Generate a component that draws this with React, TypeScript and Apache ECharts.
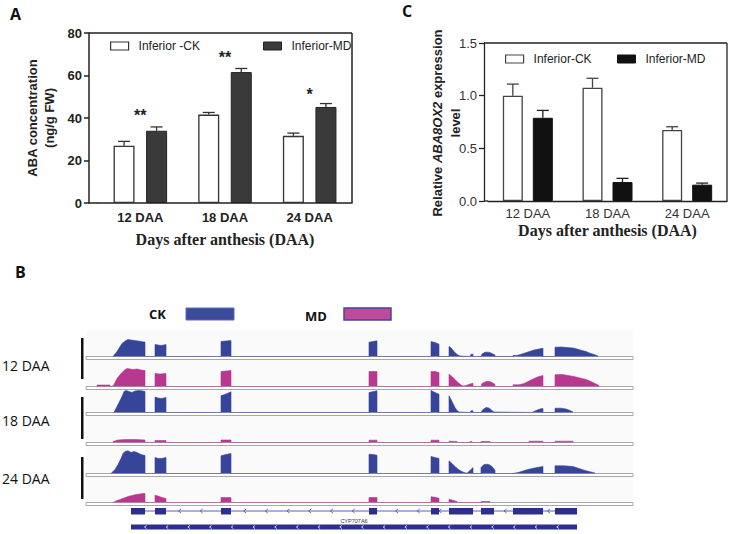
import React, { useEffect, useRef } from 'react';
import * as echarts from 'echarts';

// ---------- Panel A / C data ----------
const CATEGORIES = ['12 DAA', '18 DAA', '24 DAA'];
const ABA_CK = [27, 41.6, 31.6];
const ABA_CK_ERR = [2.0, 1.0, 1.3];
const ABA_MD = [34, 61.6, 45.2];
const ABA_MD_ERR = [1.8, 1.7, 1.6];
const ABA_SIG = ['**', '**', '*'];
const ABA_SIG_Y = [41, 68.5, 51];

const EXP_CK = [1.0, 1.075, 0.675];
const EXP_CK_ERR = [0.11, 0.09, 0.03];
const EXP_MD = [0.79, 0.18, 0.155];
const EXP_MD_ERR = [0.07, 0.035, 0.015];

// ---------- Panel B data (coverage tracks, position along locus, normalized depth) ----------
const CK_12 = [
  [27, 0], [31, 5], [36, 13], [40, 16], [42, 17], [45, 16.5], [48, 16], [52, 15.5], [55, 15], [58, 14.5], [59, 14.5], [59, 0],
  [69, 0], [69, 12], [72, 11.5], [75, 11], [78, 11.5], [80, 12], [80, 0],
  [135, 0], [135, 15], [140, 15.5], [145, 16], [145, 0],
  [283, 0], [283, 14.3], [291, 15.7], [291, 0],
  [345, 0], [345, 15], [349, 14], [353, 12.3], [353, 0],
  [363, 0], [363, 10], [365, 8.7], [368, 5], [371, 2], [374, 0.5], [374, 0],
  [384, 0], [385, 2.3], [387, 2.3], [387, 0],
  [395, 0], [396, 2.5], [399, 4.3], [403, 4.3], [406, 3], [409, 1.5], [409, 0],
  [427, 0], [427, 1], [431, 1], [436, 2.5], [442, 4.5], [448, 6.5], [453, 7.5], [457, 8.3], [457, 0],
  [469, 0], [469, 9.3], [475, 9.5], [481, 9], [487, 8.5], [491, 7.5], [496, 6], [500, 5], [504, 3.3], [508, 2], [512, 0.5], [512, 0],
];
const MD_12 = [
  [11, 0], [11, 1.5], [24, 1.5], [24, 0],
  [26, 0], [28, 2], [31, 8], [35, 13], [38, 16], [41, 18], [44, 17.5], [47, 17], [51, 17.5], [55, 16.5], [59, 16], [59, 0],
  [69, 0], [69, 13], [74, 12.5], [80, 13], [80, 0],
  [135, 0], [135, 15], [140, 15.5], [145, 16], [145, 0],
  [283, 0], [283, 15], [291, 15], [291, 0],
  [345, 0], [345, 15], [349, 15], [353, 14], [353, 0],
  [363, 0], [363, 12.3], [366, 10], [369, 7], [372, 4], [375, 1.5], [377, 0.5], [380, 1], [384, 2.5], [387, 3.3], [387, 0],
  [395, 0], [396, 3], [400, 5], [404, 5], [407, 3.5], [409, 2], [409, 0],
  [427, 0], [427, 1.7], [433, 1.7], [438, 3], [443, 5.5], [448, 8], [453, 10], [457, 11], [457, 0],
  [469, 0], [469, 11.7], [476, 12], [482, 11], [488, 10], [494, 8.5], [500, 7], [505, 5], [509, 3], [513, 1], [513, 0],
];
const CK_18 = [
  [28, 0], [30, 4], [33, 10], [36, 16], [38, 21], [40, 22], [43, 21], [46, 20], [49, 21.5], [53, 22], [57, 21.5], [59, 21], [59, 0],
  [69, 0], [69, 15.5], [72, 14.5], [75, 14], [78, 14.5], [80, 15], [80, 0],
  [135, 0], [135, 16.7], [140, 18.5], [145, 20.7], [145, 0],
  [283, 0], [283, 20], [291, 21.7], [291, 0],
  [345, 0], [345, 22], [349, 20], [353, 18.3], [353, 0],
  [363, 0], [363, 16.7], [365, 13], [367, 9], [369, 5], [371, 2], [373, 0.5], [373, 0],
  [384, 0], [385, 1.7], [387, 1.7], [387, 0],
  [395, 0], [397, 3], [400, 5], [403, 4.5], [406, 2], [408, 0.5], [408, 0],
  [446, 0], [450, 2], [454, 3.5], [457, 4], [457, 0],
  [469, 0], [469, 4.3], [475, 4.3], [480, 3.5], [484, 2], [487, 0.5], [487, 0],
];
const MD_18 = [
  [27, 0], [27, 1], [32, 2.5], [40, 3], [50, 3], [59, 2.5], [59, 0],
  [69, 0], [69, 2], [80, 2], [80, 0],
  [135, 0], [135, 2.5], [145, 2.5], [145, 0],
  [283, 0], [283, 2.3], [291, 2.3], [291, 0],
  [345, 0], [345, 2.3], [353, 2.3], [353, 0],
  [363, 0], [363, 1.3], [371, 1], [371, 0],
  [384, 0], [384, 1], [386, 1], [386, 0],
  [395, 0], [395, 1], [404, 1], [404, 0],
  [443, 0], [443, 1.3], [457, 1.3], [457, 0],
  [469, 0], [469, 1.3], [487, 1.3], [487, 0],
];
const CK_24 = [
  [25, 0], [29, 4], [32, 9], [35, 15], [37, 20], [39, 22], [42, 22.7], [45, 21], [48, 22], [51, 21], [55, 19], [59, 18], [59, 0],
  [69, 0], [69, 16], [72, 15], [75, 15], [78, 15.5], [80, 16], [80, 0],
  [135, 0], [135, 17.7], [140, 19], [145, 20], [145, 0],
  [283, 0], [283, 19.3], [287, 19], [291, 18.3], [291, 0],
  [345, 0], [345, 17], [349, 16], [353, 15], [353, 0],
  [363, 0], [363, 12.7], [366, 10], [370, 6], [374, 3], [378, 1], [381, 0.3], [384, 3], [387, 6], [387, 0],
  [395, 0], [395, 6], [398, 9], [401, 9.3], [404, 8.5], [407, 6], [409, 3], [409, 0],
  [426, 0], [426, 0.7], [431, 0.7], [434, 1.5], [440, 3.5], [446, 5], [451, 6], [457, 7], [457, 0],
  [469, 0], [469, 7.7], [478, 7.7], [487, 7], [493, 5], [499, 3], [505, 1.5], [509, 0.5], [509, 0],
];
const MD_24 = [
  [27, 0], [30, 1.5], [34, 3], [38, 4.5], [42, 6], [46, 7], [50, 8], [54, 8.5], [57, 9], [59, 9], [59, 0],
  [69, 0], [69, 7.3], [72, 6.5], [76, 5], [80, 4], [80, 0],
  [135, 0], [135, 5], [145, 5], [145, 0],
  [283, 0], [283, 5], [291, 5], [291, 0],
  [345, 0], [345, 5.7], [349, 5.3], [353, 4.3], [353, 0],
  [363, 0], [363, 3.3], [366, 2.5], [369, 1.5], [371, 1], [371, 0],
  [395, 0], [395, 1], [404, 1], [404, 0],
];
const TRACKS = [CK_12, MD_12, CK_18, MD_18, CK_24, MD_24];
const TRACK_GROUP = ['CK', 'MD', 'CK', 'MD', 'CK', 'MD'];
const GENE_NAME = 'CYP707A6';
const GENE_EXONS = [[45, 59], [69, 80], [135, 145], [283, 291], [345, 353], [363, 387], [395, 408], [427, 457], [469, 491]];
const TRANSCRIPT = [[45, 491]];
const LOCUS_RANGE = [0, 547];

// ---------- styles ----------
const SANS = '"Liberation Sans", Arial, sans-serif';
const SERIF = '"Liberation Serif", "Times New Roman", serif';
const CAL = '"Open Sans", "Noto Sans", sans-serif';
const BLUE = '#36449a';
const PINK = '#b8388f';
const NAVY = '#2c2f8e';
const INTRON = '#5a5ec4';

const TRACK_BASE = [358, 388, 414, 444, 475, 504];
const TRACK_H = 26;
const TRACK_LEFT = 86;
const TRACK_W = 547;

function errorBar(offset: number, color: string, capHalf: number) {
  return (params: any, api: any) => {
    const idx = api.value(0);
    const v = api.value(1);
    const e = api.value(2);
    const p0 = api.coord([idx, v]);
    const p1 = api.coord([idx, v + e]);
    const x = p0[0] + offset;
    return {
      type: 'group',
      children: [
        { type: 'line', shape: { x1: x, y1: p0[1], x2: x, y2: p1[1] }, style: { stroke: color, lineWidth: 1.3 } },
        { type: 'line', shape: { x1: x - capHalf, y1: p1[1], x2: x + capHalf, y2: p1[1] }, style: { stroke: color, lineWidth: 1.3 } },
      ],
    };
  };
}

function txt(text: string, x: number, y: number, font: string, align = 'left', fill = '#111') {
  return {
    type: 'text',
    x,
    y,
    style: { text, font, fill, textAlign: align, align, textVerticalAlign: 'middle', verticalAlign: 'middle' },
  };
}

function buildOption(): any {
  const grids: any[] = [
    { left: 98, top: 33, width: 254, height: 170 },
    { left: 488, top: 43, width: 239, height: 158 },
  ];
  TRACK_BASE.forEach((b) => {
    grids.push({ left: TRACK_LEFT, top: b - 1.5 - TRACK_H, width: TRACK_W, height: TRACK_H });
  });
  grids.push({ left: TRACK_LEFT, top: 505, width: TRACK_W, height: 28 });

  const xAxes: any[] = [
    {
      gridIndex: 0, type: 'category', data: CATEGORIES,
      axisLine: { lineStyle: { color: '#222', width: 1.5 } },
      axisTick: { alignWithLabel: true, length: 5, lineStyle: { color: '#222', width: 1.5 } },
      axisLabel: { fontFamily: SANS, fontWeight: 'bold', fontSize: 13, color: '#222', margin: 8 },
      name: 'Days after anthesis (DAA)', nameLocation: 'middle', nameGap: 28,
      nameTextStyle: { fontFamily: SERIF, fontWeight: 'bold', fontSize: 16, color: '#222' },
    },
    {
      gridIndex: 1, type: 'category', data: CATEGORIES,
      axisLine: { lineStyle: { color: '#222', width: 1.3 } },
      axisTick: { alignWithLabel: true, length: 5, lineStyle: { color: '#222', width: 1.3 } },
      axisLabel: { fontFamily: SANS, fontSize: 13, color: '#333', margin: 6 },
      name: 'Days after anthesis (DAA)', nameLocation: 'middle', nameGap: 21,
      nameTextStyle: { fontFamily: SERIF, fontWeight: 'bold', fontSize: 16, color: '#222' },
    },
  ];
  const yAxes: any[] = [
    {
      gridIndex: 0, type: 'value', min: 0, max: 80, interval: 20, offset: 9,
      axisLine: { show: true, lineStyle: { color: '#222', width: 1.5 } },
      axisTick: { show: true, length: 5, lineStyle: { color: '#222', width: 1.5 } },
      splitLine: { show: false },
      axisLabel: { fontFamily: SANS, fontWeight: 'bold', fontSize: 13, color: '#222', margin: 7 },
      name: 'ABA concentration\n(ng/g FW)', nameLocation: 'middle', nameGap: 31,
      nameTextStyle: { fontFamily: SANS, fontWeight: 'bold', fontSize: 13, color: '#222', lineHeight: 17 },
    },
    {
      gridIndex: 1, type: 'value', min: 0, max: 1.5, interval: 0.5, offset: 4,
      axisLine: { show: true, lineStyle: { color: '#222', width: 1.3 } },
      axisTick: { show: true, length: 5, lineStyle: { color: '#222', width: 1.3 } },
      splitLine: { show: false },
      axisLabel: { fontFamily: SANS, fontSize: 13, color: '#333', margin: 7, formatter: (v: number) => v.toFixed(1) },
    },
  ];
  for (let i = 0; i < TRACKS.length + 1; i++) {
    xAxes.push({ gridIndex: 2 + i, type: 'value', min: LOCUS_RANGE[0], max: LOCUS_RANGE[1], show: false });
    yAxes.push({ gridIndex: 2 + i, type: 'value', min: 0, max: i < TRACKS.length ? TRACK_H : 1, show: false });
  }

  const series: any[] = [
    {
      name: 'Inferior -CK', type: 'bar', xAxisIndex: 0, yAxisIndex: 0, data: ABA_CK,
      barWidth: 21, barGap: '55%',
      itemStyle: { color: '#ffffff', borderColor: '#333', borderWidth: 1.3 },
    },
    {
      name: 'Inferior-MD', type: 'bar', xAxisIndex: 0, yAxisIndex: 0, data: ABA_MD,
      barWidth: 21, barGap: '55%',
      itemStyle: { color: '#3a3a3a', borderColor: '#222', borderWidth: 1 },
    },
    {
      type: 'custom', xAxisIndex: 0, yAxisIndex: 0, z: 3, silent: true,
      data: ABA_CK.map((v, i) => [i, v, ABA_CK_ERR[i]]), encode: { x: 0, y: 1 },
      renderItem: errorBar(-16.25, '#333', 6),
    },
    {
      type: 'custom', xAxisIndex: 0, yAxisIndex: 0, z: 3, silent: true,
      data: ABA_MD.map((v, i) => [i, v, ABA_MD_ERR[i]]), encode: { x: 0, y: 1 },
      renderItem: errorBar(16.25, '#333', 6),
    },
    {
      type: 'scatter', xAxisIndex: 0, yAxisIndex: 0, symbolSize: 1, silent: true, z: 5,
      itemStyle: { color: 'rgba(0,0,0,0)' },
      data: ABA_SIG_Y.map((y, i) => [i, y]),
      label: {
        show: true, position: 'inside', formatter: (p: any) => ABA_SIG[p.dataIndex],
        fontFamily: SANS, fontWeight: 'bold', fontSize: 16, color: '#222', opacity: 1,
      },
    },
    {
      name: 'Inferior-CK', type: 'bar', xAxisIndex: 1, yAxisIndex: 1, data: EXP_CK,
      barWidth: 20, barGap: '50%',
      itemStyle: { color: '#ffffff', borderColor: '#444', borderWidth: 1.3 },
    },
    {
      name: 'Inferior-MD', type: 'bar', xAxisIndex: 1, yAxisIndex: 1, data: EXP_MD,
      barWidth: 20, barGap: '50%',
      itemStyle: { color: '#111111', borderColor: '#111', borderWidth: 1 },
    },
    {
      type: 'custom', xAxisIndex: 1, yAxisIndex: 1, z: 3, silent: true,
      data: EXP_CK.map((v, i) => [i, v, EXP_CK_ERR[i]]), encode: { x: 0, y: 1 },
      renderItem: errorBar(-15, '#444', 6),
    },
    {
      type: 'custom', xAxisIndex: 1, yAxisIndex: 1, z: 3, silent: true,
      data: EXP_MD.map((v, i) => [i, v, EXP_MD_ERR[i]]), encode: { x: 0, y: 1 },
      renderItem: errorBar(15, '#222', 6),
    },
  ];

  TRACKS.forEach((t, i) => {
    const color = TRACK_GROUP[i] === 'CK' ? BLUE : PINK;
    series.push({
      type: 'line', xAxisIndex: 2 + i, yAxisIndex: 2 + i, data: t, silent: true,
      showSymbol: false, symbol: 'none', smooth: false,
      lineStyle: { color, width: 0.6 }, areaStyle: { color, opacity: 1 },
    });
  });

  const gi = 2 + TRACKS.length;
  series.push({
    type: 'custom', xAxisIndex: gi, yAxisIndex: gi, silent: true, z: 2,
    data: TRANSCRIPT, encode: { x: [0, 1] },
    renderItem: (params: any, api: any) => {
      const a = api.coord([api.value(0), 0])[0];
      const b = api.coord([api.value(1), 0])[0];
      const y0 = params.coordSys.y;
      const children: any[] = [
        { type: 'line', shape: { x1: a, y1: y0 + 6, x2: b, y2: y0 + 6 }, style: { stroke: INTRON, lineWidth: 1 } },
        { type: 'rect', shape: { x: a, y: y0 + 19.5, width: b - a, height: 5 }, style: { fill: NAVY } },
      ];
      for (let x = a + 48; x < b - 4; x += 21.7) {
        children.push({ type: 'polyline', shape: { points: [[x + 2, y0 + 4], [x - 0.5, y0 + 6], [x + 2, y0 + 8]] }, style: { stroke: INTRON, lineWidth: 1, fill: null } });
      }
      for (let x = a + 14; x < b - 4; x += 21.7) {
        children.push({ type: 'polyline', shape: { points: [[x + 1.5, y0 + 20.5], [x - 0.5, y0 + 22], [x + 1.5, y0 + 23.5]] }, style: { stroke: '#ffffff', lineWidth: 0.8, fill: null } });
      }
      return { type: 'group', children };
    },
  });
  series.push({
    type: 'custom', xAxisIndex: gi, yAxisIndex: gi, silent: true, z: 3,
    data: GENE_EXONS, encode: { x: [0, 1] },
    renderItem: (params: any, api: any) => {
      const a = api.coord([api.value(0), 0])[0];
      const b = api.coord([api.value(1), 0])[0];
      const y0 = params.coordSys.y;
      return { type: 'rect', shape: { x: a, y: y0 + 3, width: b - a, height: 6.5 }, style: { fill: NAVY } };
    },
  });

  const graphic: any[] = [
    { type: 'rect', z: -10, shape: { x: TRACK_LEFT, y: 330, width: TRACK_W, height: 176 }, style: { fill: '#fafafb' } },
    // panel letters
    txt('A', 10, 14, `bold 16px ${CAL}`),
    txt('C', 402, 11, `bold 16px ${CAL}`),
    txt('B', 15, 272, `bold 16px ${CAL}`),
    // panel C y-axis title
    {
      type: 'text', x: 437, y: 123, rotation: Math.PI / 2,
      style: {
        text: 'Relative {i|ABA8OX2} expression', font: `bold 13px ${SANS}`, fill: '#222',
        textAlign: 'center', align: 'center', textVerticalAlign: 'middle', verticalAlign: 'middle',
        rich: { i: { fontFamily: SANS, fontStyle: 'italic', fontWeight: 'bold', fontSize: 13, fill: '#222', color: '#222' } },
      },
    },
    {
      type: 'text', x: 455, y: 123, rotation: Math.PI / 2,
      style: { text: 'level', font: `bold 13px ${SANS}`, fill: '#222', textAlign: 'center', align: 'center', textVerticalAlign: 'middle', verticalAlign: 'middle' },
    },
    // frames
    { type: 'line', shape: { x1: 89, y1: 33, x2: 352, y2: 33 }, style: { stroke: '#222', lineWidth: 1.5 } },
    { type: 'line', shape: { x1: 352, y1: 33, x2: 352, y2: 203 }, style: { stroke: '#222', lineWidth: 1.5 } },
    { type: 'line', shape: { x1: 89, y1: 203, x2: 98, y2: 203 }, style: { stroke: '#222', lineWidth: 1.5 } },
    { type: 'line', shape: { x1: 484, y1: 43, x2: 727, y2: 43 }, style: { stroke: '#222', lineWidth: 1.3 } },
    { type: 'line', shape: { x1: 727, y1: 43, x2: 727, y2: 201 }, style: { stroke: '#222', lineWidth: 1.3 } },
    { type: 'line', shape: { x1: 484, y1: 201, x2: 488, y2: 201 }, style: { stroke: '#222', lineWidth: 1.3 } },
    // B legend
    txt('CK', 149, 314, `bold 13px ${CAL}`),
    { type: 'rect', shape: { x: 186, y: 308, width: 48, height: 12 }, style: { fill: '#3c4a9c', stroke: '#5a6ab8', lineWidth: 1 } },
    txt('MD', 305, 316, `bold 13px ${CAL}`),
    { type: 'rect', shape: { x: 344, y: 308, width: 47, height: 12 }, style: { fill: '#c04a98', stroke: '#3c4a9c', lineWidth: 1.5 } },
    // gene name
    txt(GENE_NAME, 354, 521, `5.5px ${SANS}`, 'center', '#333'),
  ];
  TRACK_BASE.forEach((b) => {
    graphic.push({ type: 'rect', shape: { x: TRACK_LEFT, y: b - 1.5, width: TRACK_W, height: 3 }, style: { fill: '#ffffff', stroke: '#a8a8a8', lineWidth: 1 } });
  });
  const groupSpans = [[338, 379], [397, 439], [457, 499]];
  const labelY = [365, 420, 478];
  CATEGORIES.forEach((c, i) => {
    graphic.push({ type: 'rect', shape: { x: 81, y: groupSpans[i][0], width: 2.5, height: groupSpans[i][1] - groupSpans[i][0] }, style: { fill: '#111' } });
    graphic.push(txt(c, 2, labelY[i], `14px ${CAL}`, 'left', '#111'));
  });

  const legendBase = {
    icon: 'rect', itemWidth: 18, itemHeight: 8, selectedMode: false, padding: 0,
    textStyle: { fontFamily: SANS, fontSize: 12, color: '#222', padding: [0, 0, 0, 5] },
  };

  return {
    animation: false,
    backgroundColor: '#ffffff',
    grid: grids,
    xAxis: xAxes,
    yAxis: yAxes,
    legend: [
      { ...legendBase, left: 110, top: 40, data: [{ name: 'Inferior -CK', itemStyle: { color: '#fff', borderColor: '#333', borderWidth: 1.2 } }] },
      { ...legendBase, left: 263, top: 40, data: [{ name: 'Inferior-MD', itemStyle: { color: '#3a3a3a', borderColor: '#222', borderWidth: 1 } }] },
      { ...legendBase, left: 505, top: 53, data: [{ name: 'Inferior-CK', itemStyle: { color: '#fff', borderColor: '#444', borderWidth: 1.2 } }] },
      { ...legendBase, left: 617, top: 53, data: [{ name: 'Inferior-MD', itemStyle: { color: '#111', borderColor: '#111', borderWidth: 1 } }] },
    ],
    series,
    graphic,
  };
}

export default function App() {
  const ref = useRef<HTMLDivElement>(null);
  useEffect(() => {
    if (!ref.current) return;
    const chart = echarts.init(ref.current, undefined, { renderer: 'svg' });
    chart.setOption(buildOption());
    return () => chart.dispose();
  }, []);
  return <div ref={ref} style={{ position: 'absolute', left: 0, top: 0, width: 729, height: 534 }} />;
}
